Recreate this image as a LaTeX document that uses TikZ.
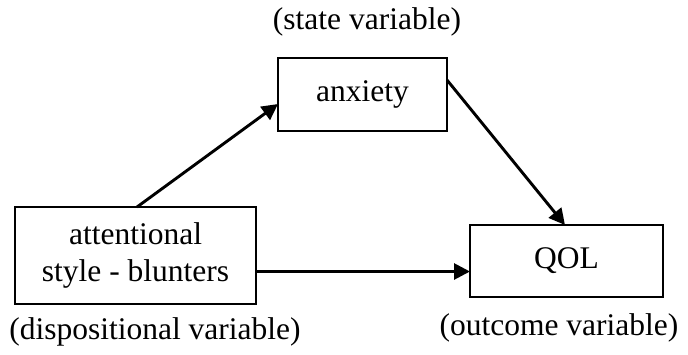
\documentclass[tikz,border=0pt]{standalone}
\usepackage{fontspec}
\setmainfont{Liberation Serif}
\usetikzlibrary{arrows.meta}
\begin{document}
\begin{tikzpicture}[x=1pt,y=-1pt,
  box/.style={draw,line width=2pt,inner sep=0pt,outer sep=0pt,align=center,
    font=\fontsize{31.5}{37.5}\selectfont},
  lbl/.style={inner sep=0pt,font=\fontsize{31.5}{37.5}\selectfont},
  arr/.style={line width=2.9pt,-{Triangle[length=16pt,width=16pt]}}]
\useasboundingbox (0,0) rectangle (688,354);
\node[box,minimum width=241pt,minimum height=97pt] (L) at (135.5,255.5) {attentional\\style - blunters};
\node[box,minimum width=169pt,minimum height=73pt] (A) at (362.5,94.5) {anxiety};
\node[box,minimum width=193pt,minimum height=72pt] (Q) at (566.5,261) {QOL};
\node[lbl] (ls) at (367,22) {(state variable)};
\node[lbl] (ld) at (155,332) {(dispositional variable)};
\node[lbl] (lo) at (559,328) {(outcome variable)};
\draw[arr] ([xshift=122pt]L.north west) -- ([yshift=-46pt]A.north west);
\draw[arr] ([yshift=-22pt]A.north east) -- ([xshift=95pt]Q.north west);
\draw[arr] ([yshift=-16pt]L.east) -- ([yshift=-10.5pt]Q.west);
\end{tikzpicture}
\end{document}
